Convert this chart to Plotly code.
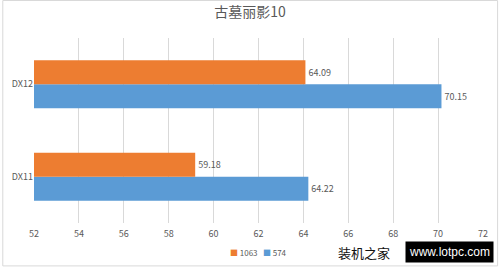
import plotly.graph_objects as go

categories = ["DX11", "DX12"]
series_1063 = [59.18, 64.09]
series_574 = [64.22, 70.15]
tick_vals = [52, 54, 56, 58, 60, 62, 64, 66, 68, 70, 72]
orange = "#ED7D31"
blue = "#5B9BD5"

font = "Noto Sans CJK SC, Noto Sans, sans-serif"
fig = go.Figure()
fig.add_trace(go.Bar(y=categories, x=series_574, orientation="h", name="574",
                     marker=dict(color=blue, line=dict(width=0)),
                     text=[f"{v:.2f}" for v in series_574], textposition="outside",
                     textfont=dict(size=9, color="#595959"), cliponaxis=False))
fig.add_trace(go.Bar(y=categories, x=series_1063, orientation="h", name="1063",
                     marker=dict(color=orange, line=dict(width=0)),
                     text=[f"{v:.2f}" for v in series_1063], textposition="outside",
                     textfont=dict(size=9, color="#595959"), cliponaxis=False))

fig.update_layout(
    width=500, height=267,
    margin=dict(l=32, r=15, t=38, b=44),
    paper_bgcolor="white", plot_bgcolor="white",
    barmode="group", bargap=0.48, bargroupgap=0,
    font=dict(family=font, color="#595959", size=9),
    title=dict(text="古墓丽影10", x=0.5, xanchor="center", y=0.955, yanchor="middle",
               font=dict(size=14, color="#595959", family=font)),
    xaxis=dict(range=[52, 72], tickvals=tick_vals, showgrid=True, gridcolor="#D9D9D9",
               gridwidth=1, zeroline=False, showline=False, ticks="",
               ticklabelstandoff=4,
               tickfont=dict(size=9, color="#595959"), fixedrange=True),
    yaxis=dict(showgrid=False, showline=False, ticks="", tickfont=dict(size=9, color="#595959"),
               fixedrange=True),
    showlegend=False,
)
# outer border
fig.add_shape(type="rect", xref="paper", yref="paper",
              x0=-0.0695, x1=1.0325, y0=-0.232, y1=1.2027,
              line=dict(color="#D9D9D9", width=1))
# legend
fig.add_annotation(xref="paper", yref="paper", x=0.5, y=-0.157, xanchor="center", yanchor="middle",
                   text=(f"<span style='color:{orange}'>■</span> 1063   "
                         f"<span style='color:{blue}'>■</span> 574"),
                   showarrow=False, font=dict(size=8, color="#595959", family=font))
# watermark
fig.add_annotation(xref="paper", yref="paper", x=0.735, y=-0.157, xanchor="center", yanchor="middle",
                   text="装机之家", showarrow=False,
                   font=dict(size=13, color="#111111", family=font))
fig.add_annotation(xref="paper", yref="paper", x=1.024, y=-0.157, xanchor="right", yanchor="middle",
                   text="www.lotpc.com", showarrow=False, bgcolor="black",
                   font=dict(size=12, color="white", family="Liberation Sans, Arial"),
                   borderpad=3)
fig.write_html("out.html")
